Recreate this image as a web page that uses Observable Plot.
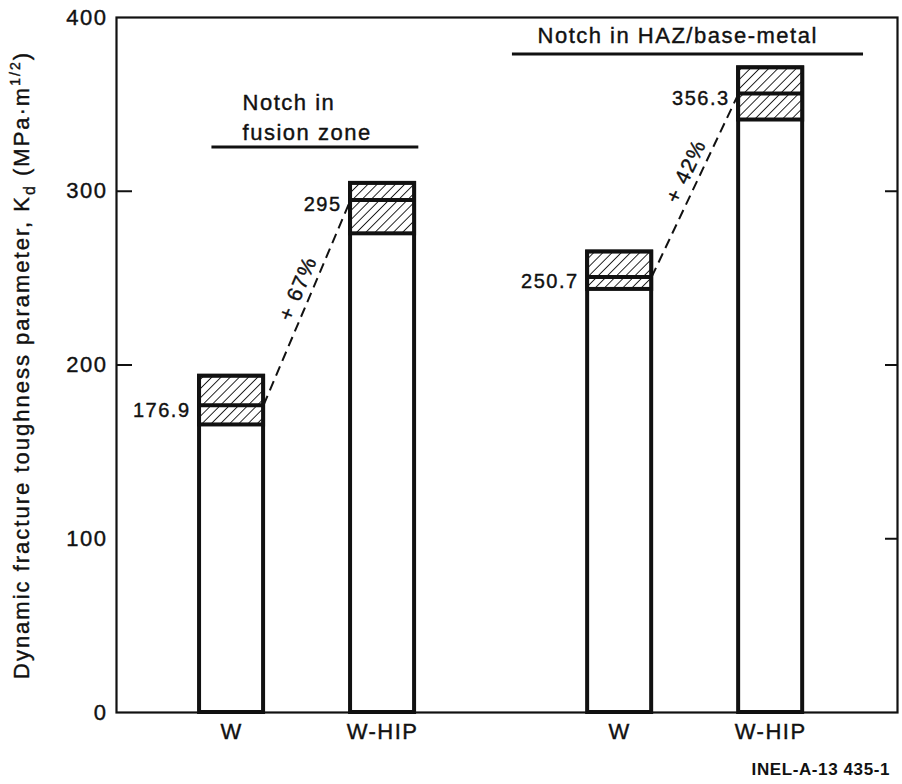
<!DOCTYPE html>
<html>
<head>
<meta charset="utf-8">
<script src="https://cdn.jsdelivr.net/npm/d3@7"></script>
<script src="https://cdn.jsdelivr.net/npm/@observablehq/plot@0.6"></script>
<style>
  html, body { margin: 0; padding: 0; background: #fff; }
  #chart { width: 902px; }
  #chart svg { display: block; }
  #chart svg text { stroke: #111; stroke-width: 0.4px; }
  #caption {
    font-family: "Liberation Sans", Arial, Helvetica, sans-serif;
    font-weight: bold; font-size: 17px; letter-spacing: 0.6px;
    text-align: right; padding-right: 12px; margin-top: 5px;
    line-height: 20px; color: #111; width: 890px;
  }
</style>
</head>
<body>
<div id="chart"></div>
<div id="caption"></div>
<script>
// ---------------- data ----------------
const groups = ["fusion zone", "HAZ/base-metal"];
const materialOrder = ["W", "W-HIP"];
const materials = ["W", "W-HIP", "W", "W-HIP"];
const notchGroups = ["fusion zone", "fusion zone", "HAZ/base-metal", "HAZ/base-metal"];
const meanKd = [176.9, 295, 250.7, 356.3];
const lowKd = [165.5, 275.5, 243.5, 341];
const highKd = [193.5, 304.5, 265, 371];
const increaseLabels = ["+ 67%", "+ 42%"];
const groupTitles = ["Notch in\nfusion zone", "Notch in HAZ/base-metal"];
const yTicks = [0, 100, 200, 300, 400];
const yLabelParts = [
  ["Dynamic fracture toughness parameter, K", "normal"],
  ["d", "sub"],
  [" (MPa\u00B7m", "normal"],
  ["1/2", "sup"],
  [")", "normal"]
];
const captionText = "INEL-A-13 435-1";

// ---------------- layout / style ----------------
const W = 902, H = 755;
const mL = 116, mR = 5, mT = 17, mB = 43;
const plotW = W - mL - mR;
const INK = "#111";
const FONT = '"Liberation Sans", Arial, Helvetica, sans-serif';
const GROUP_STEP = 2.57;   // distance between groups in x units
const HALF = 0.212;        // half bar width in x units
const headerLayout = [
  {x1: -0.13, x2: 1.24, y: 325.5, tx: 0.073, ty: 343.6},
  {x1: 1.86, x2: 4.185, y: 379, tx: 2.026, ty: 390.8}
];

const rows = materials.map((m, i) => {
  const g = groups.indexOf(notchGroups[i]);
  return {
    material: m, group: notchGroups[i],
    pos: g * GROUP_STEP + materialOrder.indexOf(m),
    mean: meanKd[i], low: lowKd[i], high: highKd[i]
  };
});
const pairs = groups.map((g, gi) => ({
  a: rows.find(r => r.group === g && r.material === "W"),
  b: rows.find(r => r.group === g && r.material === "W-HIP"),
  label: increaseLabels[gi]
}));
const headers = groups.map((g, gi) => ({title: groupTitles[gi], ...headerLayout[gi]}));
const nameByPos = new Map(rows.map(r => [r.pos, r.material]));
const yLabelText = yLabelParts.map(p => p[0]).join("");

function build(angles) {
  return Plot.plot({
    width: W, height: H,
    marginLeft: mL, marginRight: mR, marginTop: mT, marginBottom: mB,
    x: {domain: [-0.762, 4.41], axis: null},
    y: {domain: [0, 400], axis: null},
    style: {fontFamily: FONT, color: INK, background: "#fff", letterSpacing: "1.5px"},
    marks: [
      Plot.rect(rows, {x1: d => d.pos - HALF, x2: d => d.pos + HALF, y1: 0, y2: "high",
        fill: "#fff", stroke: INK, strokeWidth: 4}),
      Plot.rect(rows, {x1: d => d.pos - HALF, x2: d => d.pos + HALF, y1: "low", y2: "high",
        fill: "url(#hatch)", stroke: INK, strokeWidth: 4}),
      Plot.ruleY(rows, {x1: d => d.pos - HALF, x2: d => d.pos + HALF, y: "mean",
        stroke: INK, strokeWidth: 4}),
      Plot.frame({stroke: INK, strokeWidth: 2.2}),
      Plot.ruleY([200, 300], {stroke: INK, strokeWidth: 2, insetRight: plotW - 16}),
      Plot.ruleY([100, 200, 300], {stroke: INK, strokeWidth: 2, insetLeft: plotW - 12}),
      Plot.axisY({ticks: yTicks, anchor: "left", tickSize: 0, tickPadding: 9, fontSize: 22, label: null}),
      Plot.axisX({ticks: rows.map(r => r.pos), anchor: "bottom", tickSize: 0, tickPadding: 11,
        fontSize: 22, tickFormat: v => nameByPos.get(v), label: null}),
      Plot.link(pairs, {x1: d => d.a.pos + HALF, y1: d => d.a.mean,
        x2: d => d.b.pos - HALF, y2: d => d.b.mean,
        stroke: INK, strokeWidth: 2, strokeDasharray: "10,6"}),
      Plot.text(pairs, {x: d => (d.a.pos + d.b.pos) / 2, y: d => (d.a.mean + d.b.mean) / 2,
        text: "label", rotate: (d, i) => angles[i], dx: -9, dy: -14, fontSize: 21, fill: INK}),
      Plot.text(rows, {x: d => d.pos - HALF, y: "mean", text: d => String(d.mean),
        textAnchor: "end", dx: -9, dy: 5, fontSize: 20, fill: INK}),
      Plot.ruleY(headers, {x1: "x1", x2: "x2", y: "y", stroke: INK, strokeWidth: 3}),
      Plot.text(headers, {x: "tx", y: "ty", text: "title", textAnchor: "start",
        lineAnchor: "middle", lineHeight: 1.36, fontSize: 22, fill: INK}),
      Plot.text([yLabelText], {frameAnchor: "left", text: d => d, dx: -95, rotate: -90,
        textAnchor: "middle", lineAnchor: "middle", fontSize: 22, fill: INK})
    ]
  });
}

// first pass to measure scales for the rotated labels
const probe = build([0, 0]);
const sx = probe.scale("x"), sy = probe.scale("y");
const angles = pairs.map(p => Math.atan2(
  sy.apply(p.b.mean) - sy.apply(p.a.mean),
  sx.apply(p.b.pos - HALF) - sx.apply(p.a.pos + HALF)) * 180 / Math.PI);

const svg = build(angles);
// hatch pattern
const defs = d3.select(svg).insert("defs", ":first-child");
const pat = defs.append("pattern").attr("id", "hatch")
  .attr("patternUnits", "userSpaceOnUse").attr("width", 6.5).attr("height", 6.5)
  .attr("patternTransform", "rotate(45)");
pat.append("rect").attr("width", 6.5).attr("height", 6.5).attr("fill", "#fff");
pat.append("line").attr("x1", 0).attr("y1", 0).attr("x2", 0).attr("y2", 6.5)
  .attr("stroke", INK).attr("stroke-width", 1.8);

// subscript / superscript in y label
const lab = Array.from(svg.querySelectorAll("text")).find(e => e.textContent === yLabelText);
if (lab) {
  lab.textContent = "";
  lab.setAttribute("letter-spacing", "2px");
  let shift = 0;
  for (const [s, kind] of yLabelParts) {
    const ts = document.createElementNS("http://www.w3.org/2000/svg", "tspan");
    const target = kind === "sub" ? 6 : kind === "sup" ? -9 : 0;
    ts.setAttribute("dy", target - shift);
    shift = target;
    if (kind !== "normal") ts.setAttribute("font-size", kind === "sub" ? 16 : 14);
    ts.textContent = s;
    lab.appendChild(ts);
  }
}

document.getElementById("chart").appendChild(svg);
document.getElementById("caption").textContent = captionText;
</script>
</body>
</html>
